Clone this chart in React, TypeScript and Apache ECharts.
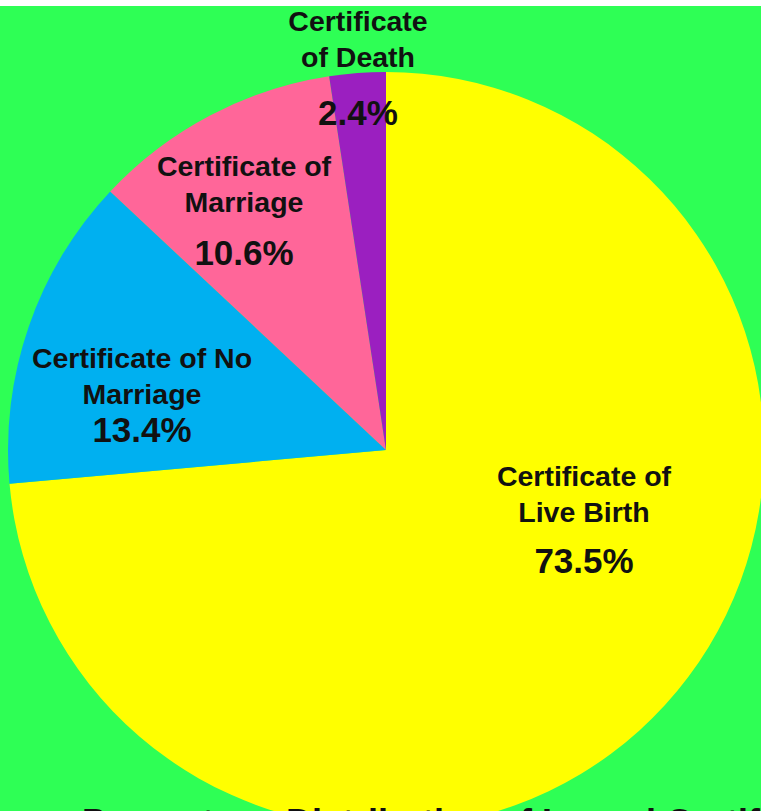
import React, { useEffect, useRef } from "react";
import * as echarts from "echarts";

const categories = [
  "Certificate of\nLive Birth",
  "Certificate of No\nMarriage",
  "Certificate of\nMarriage",
  "Certificate\nof Death",
];
const percentages = [73.5, 13.4, 10.6, 2.4];
const sliceColors = ["#FFFF00", "#00B0F0", "#FF6699", "#9B1FC0"];
const titleText = "Percentage Distribution of Issued Certificates";

// label block centres (layout) and spacing of percentage line
const labelCenters = [
  [584, 524],
  [142, 393],
  [244, 216],
  [358, 76],
];
const pctLineHeights = [60, 34, 64, 74];

export default function App() {
  const ref = useRef<HTMLDivElement>(null);
  useEffect(() => {
    if (!ref.current) return;
    const chart = echarts.init(ref.current, undefined, { renderer: "svg" });
    const font = "'Liberation Sans', Arial, sans-serif";
    const data = categories.map((name, i) => ({
      name,
      value: percentages[i],
      itemStyle: { color: sliceColors[i] },
      label: {
        formatter: (p: any) => `{n|${p.name}}\n{p${i}|${p.value.toFixed(1)}%}`,
      },
    }));
    const rich: any = {
      n: {
        fontFamily: font,
        fontWeight: "bold",
        fontSize: 28.5,
        lineHeight: 36,
        color: "#111",
        align: "center",
      },
    };
    pctLineHeights.forEach((lh, i) => {
      rich["p" + i] = {
        fontFamily: font,
        fontWeight: "bold",
        fontSize: 35,
        lineHeight: lh,
        color: "#111",
        align: "center",
      };
    });
    chart.setOption({
      animation: false,
      backgroundColor: "#2EFF55",
      title: {
        text: titleText,
        left: 82,
        top: 804,
        padding: 0,
        textStyle: {
          fontFamily: font,
          fontWeight: "bold",
          fontSize: 36,
          color: "#111",
        },
      },
      graphic: [
        {
          type: "rect",
          shape: { x: 0, y: 0, width: 761, height: 6 },
          style: { fill: "#ffffff" },
          z: 100,
        },
      ],
      series: [
        {
          type: "pie",
          center: [386, 450],
          radius: 378,
          startAngle: 90,
          clockwise: true,
          data,
          itemStyle: { borderWidth: 0 },
          label: {
            show: true,
            position: "inside",
            align: "center",
            verticalAlign: "middle",
            rich,
          },
          labelLine: { show: false },
          labelLayout: (params: any) => ({
            x: labelCenters[params.dataIndex][0],
            y: labelCenters[params.dataIndex][1],
            align: "center",
            verticalAlign: "middle",
          }),
          emphasis: { disabled: true },
        },
      ],
    });
    return () => chart.dispose();
  }, []);
  return (
    <div
      ref={ref}
      style={{ position: "fixed", left: 0, top: 0, width: 761, height: 811 }}
    />
  );
}
